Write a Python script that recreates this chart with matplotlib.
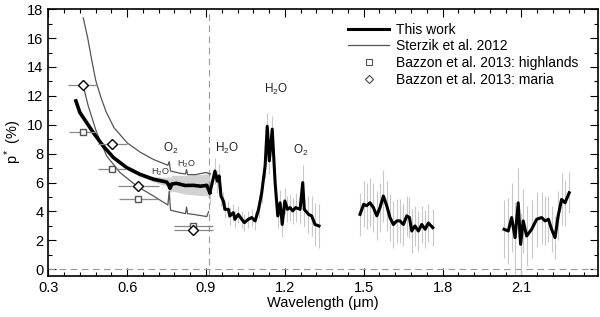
import matplotlib
matplotlib.use("Agg")
import matplotlib.pyplot as plt
from matplotlib.ticker import MultipleLocator

plt.rcParams['font.family'] = ['Liberation Sans', 'DejaVu Sans']
plt.rcParams['mathtext.fontset'] = 'custom'
plt.rcParams['mathtext.rm'] = 'Liberation Sans'
plt.rcParams['mathtext.it'] = 'Liberation Sans:italic'

# this work, visible part (gray band = scatter of the spectrum)
vis_wl = [0.405, 0.42, 0.446, 0.471, 0.509, 0.548, 0.598, 0.649, 0.70, 0.75,
          0.758, 0.763, 0.77, 0.788, 0.82, 0.852, 0.88, 0.903, 0.915]
vis_val = [11.65, 10.85, 10.15, 9.46, 8.53, 7.73, 7.04, 6.57, 6.23, 6.04,
           5.85, 5.6, 5.9, 5.95, 5.8, 5.81, 5.75, 5.81, 5.3]
vis_lo = [11.5, 10.7, 10.0, 9.35, 8.42, 7.62, 6.93, 6.42, 6.05, 5.75,
          5.5, 5.3, 5.4, 5.35, 5.2, 5.15, 5.1, 5.1, 4.9]
vis_hi = [11.8, 11.0, 10.3, 9.57, 8.64, 7.84, 7.15, 6.72, 6.42, 6.35,
          6.45, 6.3, 6.5, 6.5, 6.5, 6.55, 6.55, 6.6, 6.7]

# this work, near-IR segments with error bars
nir1_wl = [0.915, 0.934, 0.943, 0.95, 0.957, 0.966, 0.972, 0.985, 0.991, 1.004,
           1.01, 1.023, 1.036, 1.046, 1.061, 1.074, 1.087, 1.1, 1.112, 1.125,
           1.133, 1.141, 1.152, 1.163, 1.173, 1.182, 1.19, 1.2, 1.21, 1.22,
           1.23, 1.241, 1.258, 1.268, 1.274, 1.29, 1.302, 1.315, 1.33]
nir1_val = [5.3, 6.8, 6.1, 6.46, 5.07, 4.73, 4.15, 4.15, 3.69, 3.92,
            3.46, 3.8, 3.46, 3.23, 3.46, 3.58, 3.35, 4.15, 5.3, 7.15,
            9.9, 7.5, 9.7, 6.0, 3.69, 4.6, 3.1, 4.73, 4.15, 4.27,
            4.04, 4.27, 4.15, 6.0, 4.15, 3.8, 3.69, 3.1, 3.0]
nir1_err = [0.8, 0.9, 0.8, 0.8, 0.7, 0.6, 0.6, 0.6, 0.6, 0.6,
            0.6, 0.6, 0.6, 0.6, 0.6, 0.6, 0.6, 0.6, 0.7, 0.8,
            0.9, 0.9, 0.9, 0.8, 0.8, 0.9, 0.9, 0.9, 0.9, 0.9,
            0.9, 1.0, 1.0, 1.2, 1.2, 1.3, 1.4, 1.5, 1.5]

nir2_wl = [1.486, 1.5, 1.511, 1.524, 1.537, 1.55, 1.562, 1.575, 1.588, 1.6,
           1.613, 1.626, 1.638, 1.651, 1.664, 1.674, 1.683, 1.695, 1.708, 1.721,
           1.734, 1.746, 1.763]
nir2_val = [3.8, 4.5, 4.4, 4.6, 4.27, 3.7, 4.27, 5.07, 4.38, 3.58,
            3.1, 3.35, 3.35, 3.1, 3.7, 3.58, 2.65, 3.0, 2.65, 3.1,
            2.77, 3.2, 2.88]
nir2_err = [1.5, 1.6, 1.6, 1.7, 1.7, 1.7, 1.7, 1.8, 1.7, 1.6,
            1.6, 1.5, 1.5, 1.5, 1.4, 1.4, 1.5, 1.4, 1.4, 1.3,
            1.3, 1.3, 1.3]

nir3_wl = [2.034, 2.05, 2.063, 2.076, 2.088, 2.097, 2.107, 2.12, 2.139, 2.158,
           2.177, 2.19, 2.203, 2.215, 2.228, 2.24, 2.253, 2.266, 2.282]
nir3_val = [2.77, 2.65, 3.58, 2.19, 4.6, 1.73, 3.35, 2.3, 2.77, 3.46,
            3.58, 3.35, 3.46, 2.77, 2.19, 3.7, 4.84, 4.6, 5.3]
nir3_err = [2.0, 2.3, 2.4, 2.5, 2.4, 2.2, 2.2, 2.1, 2.0, 1.9,
            1.8, 1.7, 1.6, 1.6, 1.5, 1.7, 1.8, 1.6, 1.4]

# Sterzik et al. 2012 (upper and lower curves)
st_up_wl = [0.433, 0.45, 0.465, 0.48, 0.50, 0.52, 0.55, 0.60, 0.65, 0.70,
            0.755, 0.76, 0.765, 0.80, 0.822, 0.826, 0.83, 0.86, 0.90, 0.917]
st_up_val = [17.4, 16.0, 14.5, 13.1, 11.9, 10.9, 9.8, 8.75, 8.1, 7.6,
             7.2, 7.45, 6.8, 6.65, 6.6, 6.9, 6.55, 6.55, 6.7, 6.6]
st_lo_wl = [0.43, 0.452, 0.484, 0.522, 0.573, 0.636, 0.70, 0.755, 0.76, 0.765,
            0.776, 0.822, 0.826, 0.83, 0.852, 0.903, 0.91]
st_lo_val = [12.9, 11.3, 9.46, 7.84, 6.69, 5.77, 5.07, 4.45, 5.4, 4.1,
             4.04, 3.85, 4.3, 3.85, 3.8, 3.65, 4.0]

# Bazzon et al. 2013
hl_wl = [0.431, 0.543, 0.643, 0.852]
hl_val = [9.5, 6.97, 4.84, 3.0]
hl_xerr = [0.054, 0.053, 0.075, 0.073]
ma_wl = [0.431, 0.543, 0.643, 0.852]
ma_val = [12.75, 8.65, 5.77, 2.72]
ma_xerr = [0.055, 0.055, 0.077, 0.073]

fig = plt.figure(figsize=(6, 3.17), dpi=100)
ax = fig.add_axes([0.0805, 0.13, 0.9155, 0.841])

ax.axhline(0, color='#999999', lw=0.8, dashes=(6, 4))
ax.axvline(0.912, color='#999999', lw=0.8, dashes=(6, 4))

ax.fill_between(vis_wl, vis_lo, vis_hi, color='#d2d2d2', lw=0)
for w, v, e in [(nir1_wl, nir1_val, nir1_err), (nir2_wl, nir2_val, nir2_err),
                (nir3_wl, nir3_val, nir3_err)]:
    ax.errorbar(w, v, yerr=e, fmt='none', ecolor='#c8c8c8', elinewidth=0.8)

ax.plot(st_up_wl, st_up_val, color='#555555', lw=0.9)
ax.plot(st_lo_wl, st_lo_val, color='#555555', lw=0.9)

ax.plot(vis_wl, vis_val, color='black', lw=2.6, solid_joinstyle='round')
ax.plot(nir1_wl, nir1_val, color='black', lw=2.2, solid_joinstyle='round')
ax.plot(nir2_wl, nir2_val, color='black', lw=2.2, solid_joinstyle='round')
ax.plot(nir3_wl, nir3_val, color='black', lw=2.2, solid_joinstyle='round')

ax.errorbar(hl_wl, hl_val, xerr=hl_xerr, fmt='none', ecolor='#888888', elinewidth=0.9)
ax.errorbar(ma_wl, ma_val, xerr=ma_xerr, fmt='none', ecolor='#888888', elinewidth=0.9)
ax.plot(hl_wl, hl_val, ls='none', marker='s', ms=5, mfc='white', mec='#555555', mew=1.0)
ax.plot(ma_wl, ma_val, ls='none', marker='D', ms=5, mfc='white', mec='black', mew=1.0)

# absorption band labels
ax.text(0.767, 8.35, r'O$_2$', fontsize=8.5, ha='center', va='center', color='#222222')
ax.text(0.725, 6.7, r'H$_2$O', fontsize=6.5, ha='center', va='center', color='#333333')
ax.text(0.826, 7.27, r'H$_2$O', fontsize=6.5, ha='center', va='center', color='#333333')
ax.text(0.979, 8.35, r'H$_2$O', fontsize=8.5, ha='center', va='center', color='#222222')
ax.text(1.168, 12.45, r'H$_2$O', fontsize=8.5, ha='center', va='center', color='#222222')
ax.text(1.262, 8.2, r'O$_2$', fontsize=8.5, ha='center', va='center', color='#222222')

# legend
h1, = ax.plot([], [], color='black', lw=2.2)
h2, = ax.plot([], [], color='#555555', lw=0.9)
h3, = ax.plot([], [], ls='none', marker='s', ms=4.5, mfc='white', mec='#555555', mew=0.8)
h4, = ax.plot([], [], ls='none', marker='D', ms=4.5, mfc='white', mec='#444444', mew=0.8)
ax.legend([h1, h2, h3, h4],
          ['This work', 'Sterzik et al. 2012', 'Bazzon et al. 2013: highlands',
           'Bazzon et al. 2013: maria'],
          loc='upper left', bbox_to_anchor=(0.545, 0.95), frameon=False,
          fontsize=10, handlelength=3.0, handletextpad=0.5, labelspacing=0.2,
          borderaxespad=0, borderpad=0)

ax.set_xlim(0.3, 2.39)
ax.set_ylim(-0.45, 18)
ax.xaxis.set_major_locator(MultipleLocator(0.3))
ax.xaxis.set_minor_locator(MultipleLocator(0.06))
ax.yaxis.set_major_locator(MultipleLocator(2))
ax.yaxis.set_minor_locator(MultipleLocator(1))
ax.set_xticks([0.3, 0.6, 0.9, 1.2, 1.5, 1.8, 2.1])
ax.set_xticklabels(['0.3', '0.6', '0.9', '1.2', '1.5', '1.8', '2.1'])
ax.tick_params(which='both', direction='in', top=True, right=True, labelsize=10.5, width=0.8)
ax.tick_params(which='major', length=6)
ax.tick_params(which='minor', length=3)
for s in ax.spines.values():
    s.set_linewidth(1.2)

ax.set_xlabel('Wavelength (μm)', fontsize=10.5, labelpad=1)
ax.set_ylabel(r'p$^*$ (%)', fontsize=10.5, labelpad=2)

fig.savefig('out.png', dpi=100)
